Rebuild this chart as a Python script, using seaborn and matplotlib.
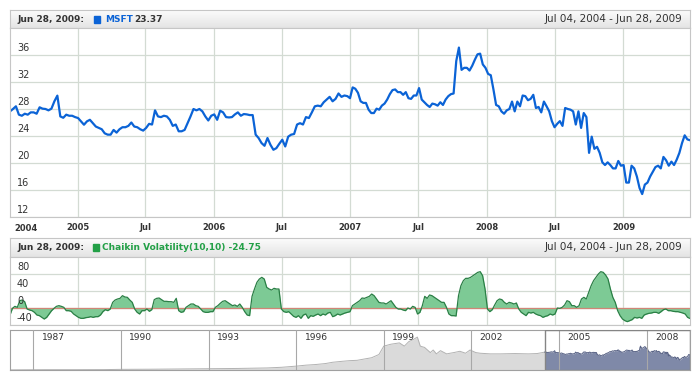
import pandas as pd
import matplotlib
matplotlib.use("Agg")
import matplotlib.pyplot as plt
import matplotlib.dates as mdates
from matplotlib.colors import LinearSegmentedColormap
from matplotlib.patches import Rectangle
import numpy as np
import seaborn as sns

# weekly MSFT closes (Jul 2004 - Dec 2006, then Jan 2007 - Jun 2009)
msft_2004_2006 = [27.65, 28.0, 28.4, 27.16, 27.0, 27.3, 27.16, 27.5, 27.5, 27.3, 28.25, 28.05, 28.0, 27.8, 28.05,
                  29.14, 29.98, 26.9, 26.7, 27.16, 27.0, 27.0, 26.8, 26.66, 26.17, 25.67, 26.17, 26.4, 25.9, 25.4,
                  25.2, 25.0, 24.4, 24.2, 24.2, 24.9, 24.5, 25.0, 25.3, 25.3, 25.5, 26.0, 25.4, 25.3, 25.0, 24.8,
                  25.2, 25.8, 25.7, 27.8, 26.9, 26.8, 27.0, 26.9, 26.4, 25.5, 25.7, 24.7, 24.7, 24.9, 25.9, 26.9,
                  28.0, 27.8, 28.0, 27.65, 26.9, 26.3, 27.0, 27.2, 26.4, 27.75, 27.5, 26.8, 26.75, 26.8, 27.2, 27.5,
                  27.0, 27.25, 27.2, 27.1, 27.1, 24.2, 23.7, 22.95, 22.55, 23.7, 22.7, 21.96, 22.2, 22.85, 23.45,
                  22.45, 23.9, 24.2, 24.3, 25.7, 25.9, 25.7, 26.8, 26.66, 27.5, 28.4, 28.5, 28.4, 29.0, 29.4, 29.8,
                  29.14, 29.5, 30.3, 29.8, 30.0, 29.9]
msft_2007_2009 = [29.6, 31.2, 31.0, 30.4, 29.14, 28.9, 28.9, 27.9, 27.4, 27.4, 28.05, 27.9, 28.5, 28.8, 29.4, 30.2,
                  30.8, 30.9, 30.5, 30.5, 30.1, 30.5, 29.6, 29.5, 30.0, 30.0, 31.1, 29.4, 29.0, 28.6, 28.3, 28.8,
                  28.7, 28.5, 29.0, 28.6, 29.4, 29.9, 30.2, 30.3, 35.1, 37.1, 33.8, 34.1, 34.1, 33.7, 34.4, 35.3,
                  36.1, 36.2, 34.6, 34.1, 33.2, 33.0, 30.9, 28.6, 28.4, 27.65, 27.3, 27.8, 28.0, 29.1, 27.65, 29.1,
                  28.4, 30.0, 29.9, 29.3, 29.5, 30.1, 28.15, 28.3, 27.5, 29.1, 28.4, 27.65, 26.2, 25.3, 25.8, 26.2,
                  25.5, 28.15, 28.0, 27.9, 27.65, 25.7, 27.65, 25.2, 27.4, 26.8, 21.5, 23.9, 22.1, 22.4, 21.5, 20.1,
                  19.7, 20.1, 19.7, 19.2, 19.2, 20.3, 19.6, 19.7, 17.1, 17.1, 19.6, 19.2, 18.0, 16.3, 15.4, 16.8,
                  17.1, 18.0, 18.7, 19.4, 19.6, 19.2, 20.9, 20.4, 19.6, 20.2, 19.7, 20.5, 21.5, 22.95, 24.1, 23.5,
                  23.37]

# Chaikin Volatility(10,10), same weeks
cv_2004_2006 = [-16.5, -0.8, 3.9, 1.6, 17.2, 18.8, 14.9, -2.4, -4.7, -6.3, -10.2, -16.5, -18.0, -22.0, -25.9, -22.0,
                -14.1, -6.3, -0.8, 3.9, 5.5, 3.9, 1.6, -6.3, -6.3, -7.8, -14.1, -18.0, -22.0, -24.3, -24.3, -22.7,
                -22.0, -20.4, -22.0, -20.4, -20.4, -16.5, -8.6, -3.9, -6.3, -2.4, 13.3, 18.8, 21.2, 22.7, 29.0,
                25.9, 25.1, 18.8, 13.3, -2.4, -10.2, -14.1, -6.3, -6.3, -2.4, -7.8, -3.9, 19.6, 22.7, 23.5, 19.6,
                15.7, 15.7, 14.9, 14.9, 13.3, 22.7, -6.3, -10.2, -8.6, 1.6, 5.5, 9.4, 9.4, 5.5, 3.9, -2.4, -8.6,
                -10.2, -10.2, -8.6, -8.6, 1.6, 5.5, 11.0, 15.7, 17.2, 13.3, 9.4, 5.5, 7.1, 3.9, 9.4, 1.6, -8.6,
                -16.5, -18.0, 27.4, 44.7, 60.4, 68.2, 72.1, 68.2, 48.6, 44.7, 42.3, 46.3, 44.7, 44.7, -2.4, -8.6,
                -10.2, -8.6, -14.1, -19.6, -22.0, -18.0, -24.3, -16.5, -14.1, -24.3, -18.0, -19.6, -16.5, -14.1,
                -18.0, -14.1, -16.5, -11.8, -10.2, -20.4, -18.0, -14.1, -16.5, -14.1, -11.8, -10.2]
cv_2007_2009 = [-8.6, 5.5, 9.4, 13.3, 17.2, 23.5, 22.7, 25.1, 27.4, 32.9, 29.0, 21.2, 13.3, 11.8, 11.8, 9.4, 13.3,
                17.2, 9.4, 1.6, -2.4, -2.4, -4.7, -6.3, 0.0, -2.4, 3.9, 1.6, -14.1, -10.2, 5.5, 27.4, 22.7, 30.6,
                29.0, 25.1, 21.2, 17.2, 13.3, 13.3, 1.6, -14.1, -18.0, -18.0, -18.8, 29.0, 52.5, 64.3, 69.8, 69.8,
                72.1, 76.0, 80.0, 83.9, 85.5, 76.0, 44.7, -2.4, -8.6, -3.9, 7.1, 17.2, 21.2, 19.6, 13.3, 9.4, 13.3,
                11.8, 9.4, 11.8, -2.4, -10.2, -14.1, -18.0, -10.2, -11.8, -10.2, -14.1, -16.5, -18.0, -22.0,
                -19.6, -18.0, -14.1, -16.5, -14.1, 0.0, -0.8, 1.6, 7.1, 17.2, 14.9, 5.5, 5.5, 1.6, 5.5, 21.2,
                25.1, 21.2, 36.8, 52.5, 64.3, 72.1, 80.0, 85.5, 83.9, 77.6, 68.2, 44.7, 25.1, 13.3, -6.3, -18.0,
                -25.9, -29.8, -32.1, -29.8, -27.4, -22.0, -23.5, -22.0, -24.3, -16.5, -14.1, -12.5, -11.8, -10.2,
                -10.2, -12.5, -8.6, -3.9, -2.4, -6.3, -6.3, -7.8, -8.6, -8.6, -10.2, -11.8, -14.1, -22.0, -24.75]

# older closes shown only in the scroller
hist_dates = ["1986-03-13", "1986-09-01", "1987-06-01", "1988-06-01", "1989-06-01", "1990-01-01",
              "1991-01-01", "1992-01-01", "1993-01-01", "1994-01-01", "1995-01-01", "1995-07-01",
              "1996-01-01", "1996-05-01", "1996-09-01", "1997-01-01", "1997-04-01", "1997-08-01",
              "1997-11-01", "1998-02-01", "1998-05-01", "1998-08-01", "1998-11-01", "1999-01-01",
              "1999-04-01", "1999-07-15", "1999-09-15", "1999-11-10", "2000-01-01", "2000-02-25",
              "2000-04-01", "2000-05-25", "2000-08-05", "2000-09-10", "2000-10-20", "2000-12-10",
              "2001-02-25", "2001-05-25", "2001-08-10", "2001-10-20", "2001-12-15", "2002-02-25",
              "2002-04-20", "2002-08-25", "2003-01-01", "2003-07-01", "2003-12-15", "2004-04-01"]
hist_close = [0.2, 0.3, 0.5, 0.5, 0.6, 1.0,
              1.2, 1.6, 2.0, 2.4, 3.2, 4.2,
              6.0, 7.5, 8.5, 10.0, 12.0, 13.5,
              14.5, 15.0, 17.0, 19.0, 24.0, 37.0,
              40.0, 42.0, 37.0, 44.0, 47.0, 51.0,
              37.0, 35.0, 27.0, 31.0, 25.0, 30.0,
              25.0, 27.0, 29.0, 26.0, 31.0, 27.0,
              26.0, 25.0, 25.0, 25.5, 25.0, 25.5]

x_ticks = ["2005-01-01", "2005-07-01", "2006-01-01", "2006-07-01", "2007-01-01",
           "2007-07-01", "2008-01-01", "2008-07-01", "2009-01-01"]
x_labels = ["2005", "Jul", "2006", "Jul", "2007", "Jul", "2008", "Jul", "2009"]
first_label = "2004"
price_ticks = [12, 16, 20, 24, 28, 32, 36]
cv_ticks = [-40, 0, 40, 80]
nav_years = [1987, 1990, 1993, 1996, 1999, 2002, 2005, 2008]

start = pd.Timestamp("2004-07-04")
split = pd.Timestamp("2006-12-31")
end = pd.Timestamp("2009-06-28")
nav_start = pd.Timestamp("1986-03-13")

d1 = pd.date_range(start, split - pd.Timedelta(days=7), periods=len(msft_2004_2006))
d2 = pd.date_range(split, end, periods=len(msft_2007_2009))
price = pd.DataFrame({"date": d1.append(d2), "close": msft_2004_2006 + msft_2007_2009})
c1 = pd.date_range(start, split - pd.Timedelta(days=7), periods=len(cv_2004_2006))
c2 = pd.date_range(split, end, periods=len(cv_2007_2009))
cv = pd.DataFrame({"date": c1.append(c2), "cv": cv_2004_2006 + cv_2007_2009})
history = pd.concat([pd.DataFrame({"date": pd.to_datetime(hist_dates), "close": hist_close}), price],
                    ignore_index=True)

sns.set_theme(style="white")
plt.rcParams['font.family'] = ['DejaVu Sans']

W, H = 700, 380
fig = plt.figure(figsize=(7, 3.8), dpi=100)
fig.patch.set_facecolor("white")

GRID = "#d3dbd3"
EDGE = "#c6c6c6"
TXT = "#333333"


def box(x0, y0, x1, y1):
    return [x0 / W, 1 - y1 / H, (x1 - x0) / W, (y1 - y0) / H]


def ftext(x, y, s, **kw):
    fig.text(x / W, 1 - y / H, s, va="center", **kw)


hdr_cmap = LinearSegmentedColormap.from_list("hdr", ["#fcfcfc", "#e4e4e4"])


def header(y0, y1, color, name, value, name_x, sq_x):
    ax = fig.add_axes(box(10, y0, 690, y1))
    ax.imshow(np.linspace(0, 1, 30).reshape(-1, 1), cmap=hdr_cmap, aspect="auto", extent=(0, 1, 0, 1))
    ax.set_xticks([])
    ax.set_yticks([])
    for s in ax.spines.values():
        s.set_color(EDGE)
        s.set_linewidth(0.8)
    yc = (y0 + y1) / 2
    ftext(17, yc, "Jun 28, 2009:", fontsize=6.5, fontweight="bold", color=TXT)
    fig.patches.append(Rectangle((sq_x / W, 1 - (yc + 3.5) / H), 6 / W, 7 / H, color=color,
                                 transform=fig.transFigure, figure=fig))
    ftext(name_x, yc, name, fontsize=6.5, fontweight="bold", color=color)
    if value:
        ftext(name_x + 29, yc, value, fontsize=6.5, fontweight="bold", color=TXT)
    ftext(682, yc, "Jul 04, 2004 - Jun 28, 2009", fontsize=7.5, color=TXT, ha="right")


def frame(ax, ticks):
    ax.set_xlim(start, end)
    ax.set_xticks(pd.to_datetime(x_ticks))
    ax.set_yticks(ticks)
    ax.grid(True, color=GRID, linewidth=0.9)
    ax.set_axisbelow(True)
    ax.set_xlabel("")
    ax.set_ylabel("")
    ax.tick_params(axis="y", length=0, labelleft=False)
    for s in ax.spines.values():
        s.set_color(EDGE)
        s.set_linewidth(0.8)
    for t in ticks:
        ax.annotate(str(t), xy=(0.0103, t), xycoords=("axes fraction", "data"), xytext=(0, 1.2),
                    textcoords="offset points", fontsize=7, color=TXT, va="bottom", ha="left")


# price panel
header(10, 28, "#0b63d6", "MSFT", "23.37", 105, 94)
ax1 = fig.add_axes(box(10, 28, 690, 217))
sns.lineplot(data=price, x="date", y="close", ax=ax1, color="#0b63d6", linewidth=1.6)
ax1.set_ylim(12, 40)
frame(ax1, price_ticks)
ax1.set_xticklabels(x_labels, fontsize=6, fontweight="bold", color=TXT)
ax1.tick_params(axis="x", length=0, pad=4)
ax1.annotate(first_label, xy=(0, 0), xycoords="axes fraction", xytext=(3.5, -5.2),
             textcoords="offset points", fontsize=6, fontweight="bold", color=TXT, ha="left", va="top")

# volatility panel
header(238, 257, "#23a047", "Chaikin Volatility(10,10) -24.75", None, 102, 92.7)
ax2 = fig.add_axes(box(10, 257, 690, 325))
ax2.fill_between(cv["date"], cv["cv"], 0, color="#7dca95", linewidth=0)
sns.lineplot(data=cv, x="date", y="cv", ax=ax2, color="#2a7f45", linewidth=0.9)
ax2.axhline(0, color="#d08676", linewidth=0.9, zorder=1.5)
ax2.set_ylim(-40, 120)
frame(ax2, cv_ticks)
ax2.tick_params(axis="x", length=0, labelbottom=False)

# scroller
nav = fig.add_axes(box(10, 330, 690, 370))
left = history[history["date"] <= start]
nav.fill_between(left["date"], left["close"], 0, color="#dadada", linewidth=0)
sns.lineplot(data=left, x="date", y="close", ax=nav, color="#b2b2b2", linewidth=0.7)
nav.fill_between(price["date"], price["close"], 0, color="#7f89a8", linewidth=0)
sns.lineplot(data=price, x="date", y="close", ax=nav, color="#5a6486", linewidth=0.7)
nav.set_xlim(nav_start, end)
nav.set_ylim(0, 62)
nav.set_xticks([])
nav.set_yticks([])
nav.set_xlabel("")
nav.set_ylabel("")
for yr in nav_years:
    d = pd.Timestamp(f"{yr}-01-01")
    nav.axvline(d, color="#a8a8a8", linewidth=0.8, zorder=3)
    nav.annotate(str(yr), xy=(d, 1), xycoords=("data", "axes fraction"), xytext=(6, -2),
                 textcoords="offset points", fontsize=6.6, color=TXT, va="top", ha="left")
nav.add_patch(Rectangle((mdates.date2num(start), 0), mdates.date2num(end) - mdates.date2num(start), 62,
                        fill=False, edgecolor="#858585", linewidth=1.0, zorder=4))
for s in nav.spines.values():
    s.set_color("#a0a0a0")
    s.set_linewidth(0.8)

fig.savefig("out.png", dpi=100)
